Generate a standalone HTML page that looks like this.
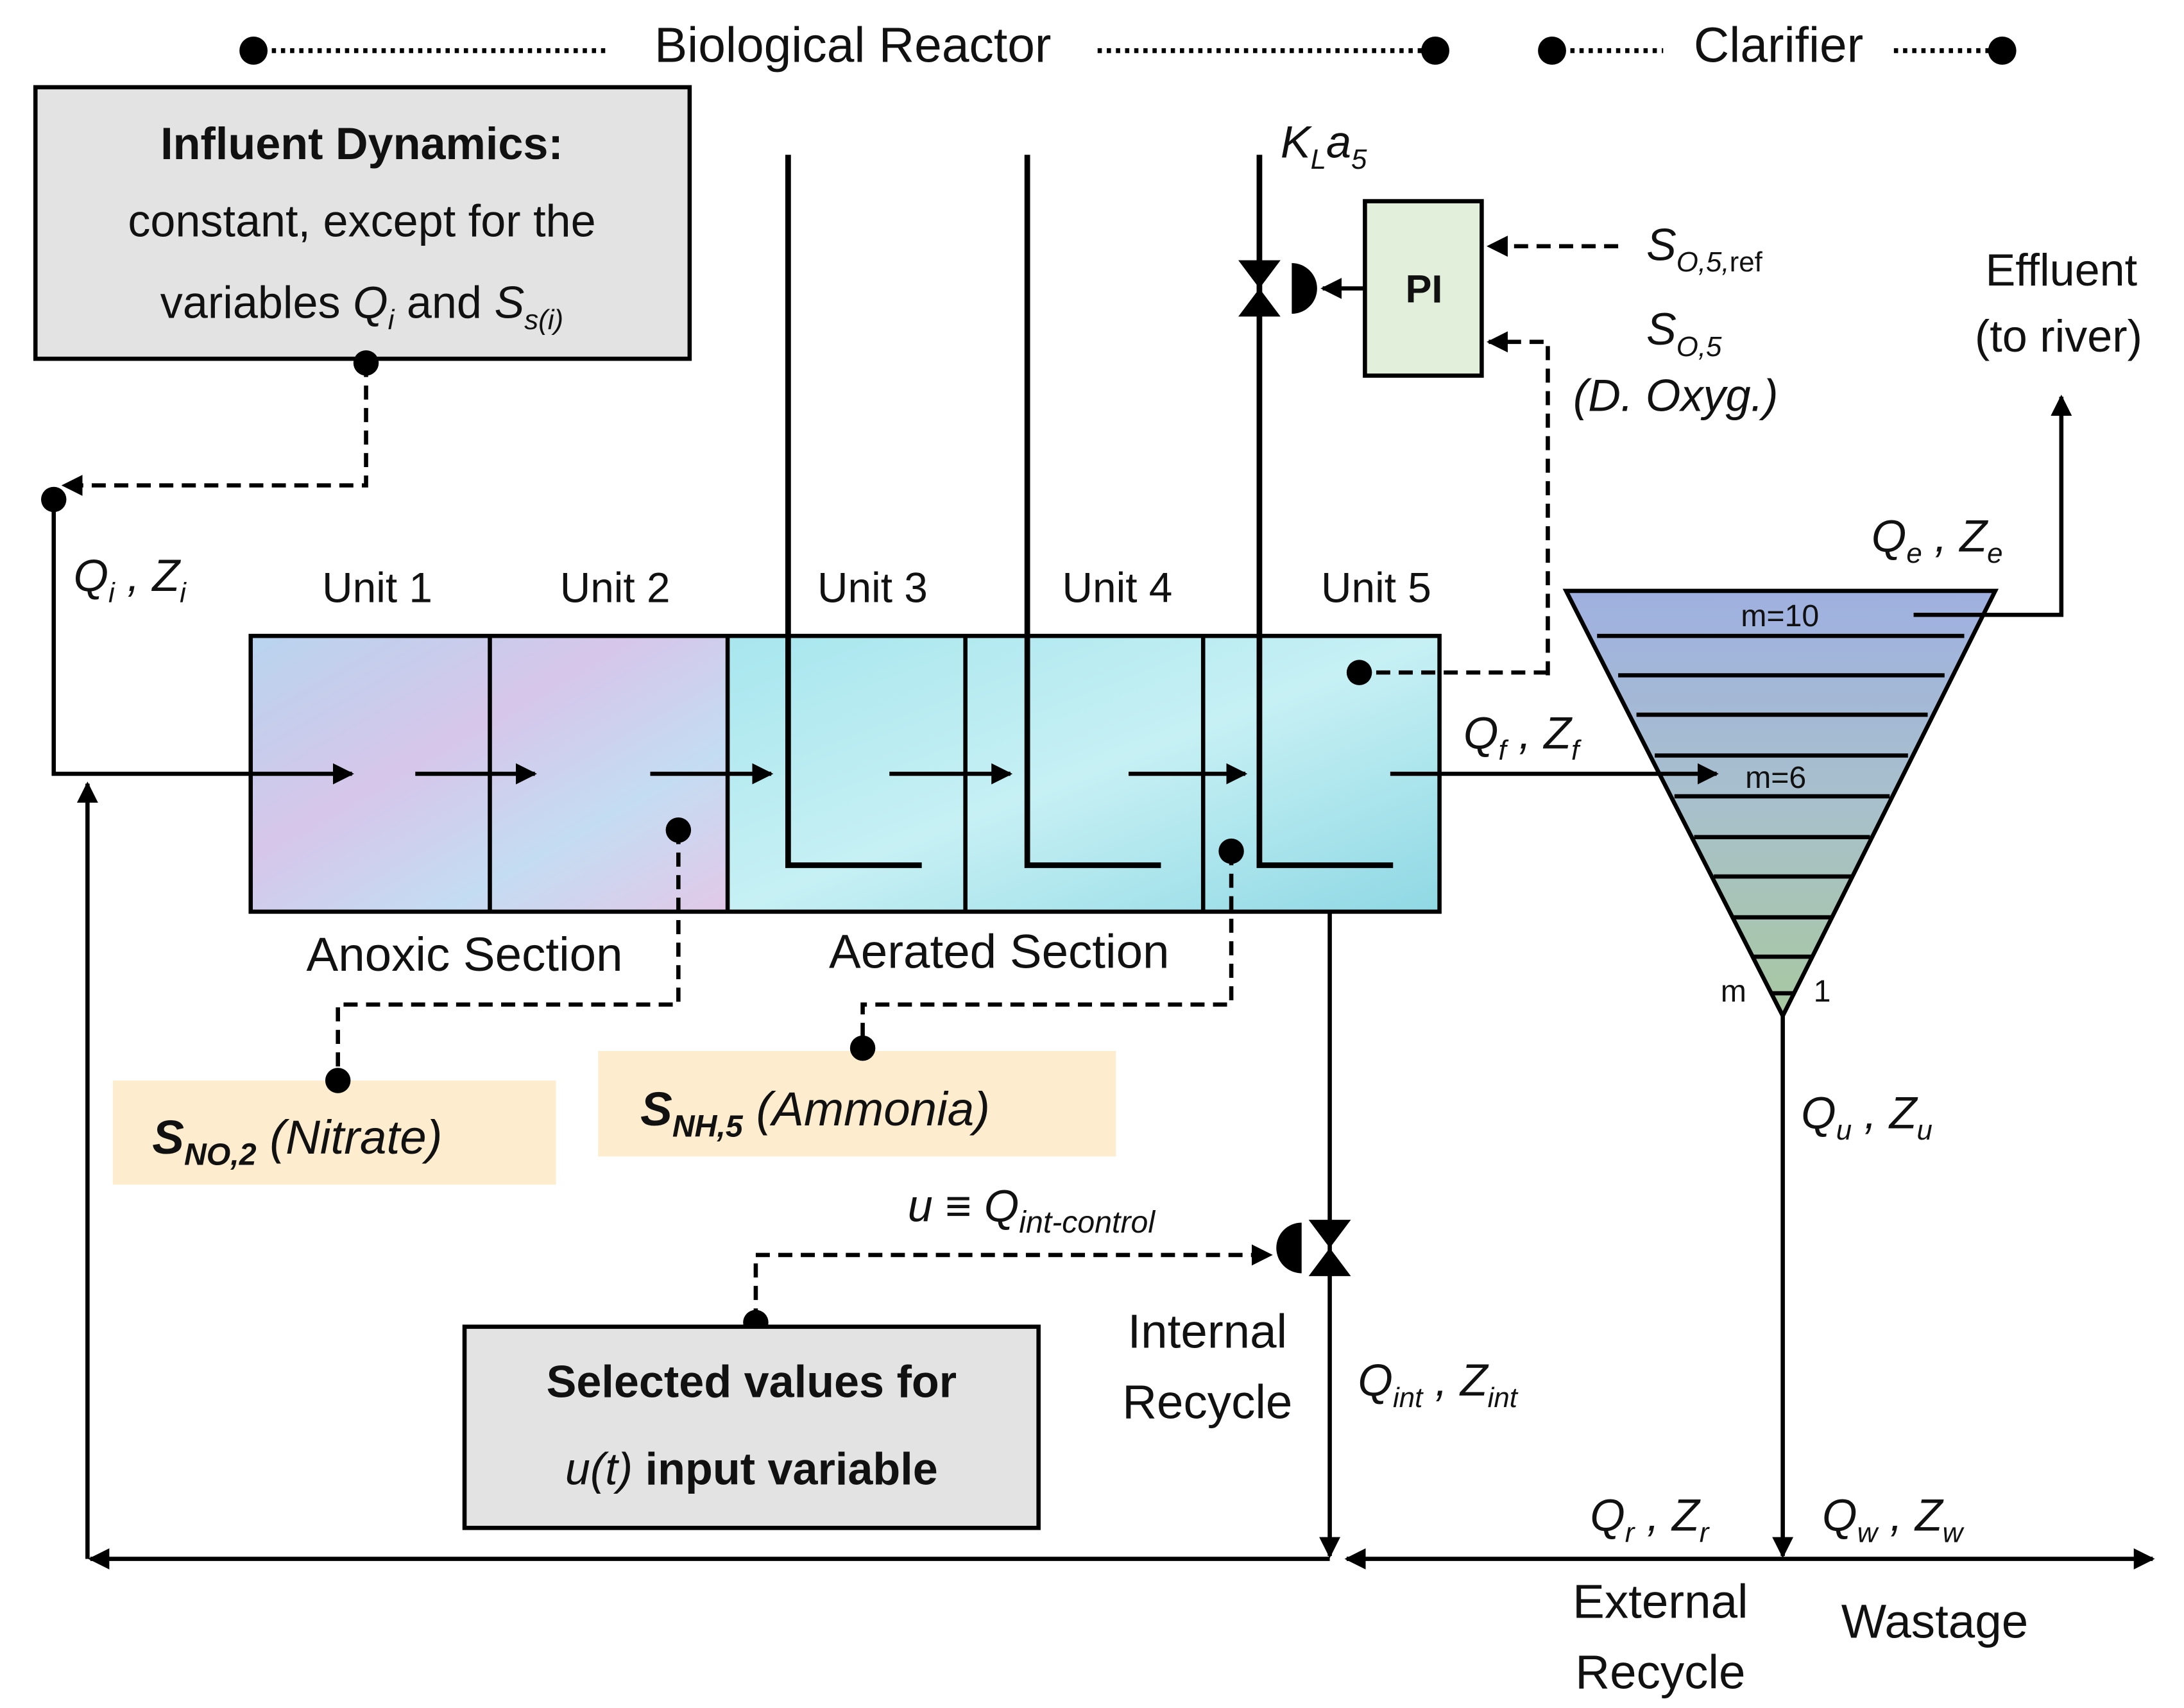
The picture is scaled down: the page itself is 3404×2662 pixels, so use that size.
<!DOCTYPE html>
<html><head><meta charset="utf-8"><style>
html,body{margin:0;padding:0;background:#fff}
svg{display:block}
text{font-family:"Liberation Sans",sans-serif;fill:#111}
</style></head><body>
<svg width="3404" height="2662" viewBox="0 0 1552 1214" xmlns="http://www.w3.org/2000/svg">
<defs>
<marker id="a" viewBox="0 0 10 10" refX="9" refY="5" markerWidth="5" markerHeight="5" orient="auto-start-reverse"><path d="M0,0L10,5L0,10z" fill="#000"/></marker>
<linearGradient id="pk" x1="0" y1="0" x2="1" y2="1"><stop offset="0" stop-color="#b8d4ee"/><stop offset=".4" stop-color="#d6c6ea"/><stop offset=".7" stop-color="#c4dcf2"/><stop offset="1" stop-color="#e2c8e8"/></linearGradient>
<linearGradient id="cy" x1="0" y1="0" x2="1" y2="1"><stop offset="0" stop-color="#a8e6ee"/><stop offset=".5" stop-color="#c6f0f4"/><stop offset="1" stop-color="#8fd8e4"/></linearGradient>
<linearGradient id="cl" x1="0" y1="0" x2="0" y2="1"><stop offset="0" stop-color="#9fb0e0"/><stop offset=".5" stop-color="#a8c0cc"/><stop offset="1" stop-color="#a8c8a0"/></linearGradient>
</defs>
<g stroke="#000" stroke-width="3.5" fill="none">
<path d="M180,36H432M780,36H1020M1103,36H1182M1346,36H1423" stroke-dasharray="3,3.5"/>
</g>
<g fill="#000"><circle cx="180" cy="36" r="10"/><circle cx="1020" cy="36" r="10"/><circle cx="1103" cy="36" r="10"/><circle cx="1423" cy="36" r="10"/></g>
<text x="606" y="44" font-size="35" text-anchor="middle">Biological Reactor</text>
<text x="1264" y="44" font-size="35" text-anchor="middle">Clarifier</text>

<rect x="25" y="62" width="465" height="193" fill="#e3e3e3" stroke="#000" stroke-width="3"/>
<text x="257" y="113" font-size="32" font-weight="bold" text-anchor="middle">Influent Dynamics:</text>
<text x="257" y="168" font-size="32" text-anchor="middle">constant, except for the</text>
<text x="257" y="226" font-size="32" text-anchor="middle">variables <tspan font-style="italic">Q</tspan><tspan font-style="italic" font-size="20" dy="8">i</tspan><tspan dy="-8"> and </tspan><tspan font-style="italic">S</tspan><tspan font-style="italic" font-size="20" dy="8">s(i)</tspan></text>
<circle cx="260" cy="258" r="9"/>
<path d="M260,258V345H45" stroke="#000" stroke-width="3" fill="none" stroke-dasharray="10,6" marker-end="url(#a)"/>
<circle cx="38" cy="355" r="9"/>
<text x="52" y="420" font-size="32" font-style="italic">Q<tspan font-size="20" dy="8">i</tspan><tspan dy="-8"> , Z</tspan><tspan font-size="20" dy="8">i</tspan></text>

<rect x="178" y="452" width="340" height="196" fill="url(#pk)"/>
<rect x="518" y="452" width="505" height="196" fill="url(#cy)"/>
<rect x="178" y="452" width="845" height="196" fill="none" stroke="#000" stroke-width="3"/>
<path d="M348,452V648M517,452V648M686,452V648M855,452V648" stroke="#000" stroke-width="3"/>
<g font-size="30" text-anchor="middle"><text x="268" y="428">Unit 1</text><text x="437" y="428">Unit 2</text><text x="620" y="428">Unit 3</text><text x="794" y="428">Unit 4</text><text x="978" y="428">Unit 5</text></g>
<g stroke="#000" stroke-width="3" fill="none" marker-end="url(#a)">
<path d="M38,355V550H250"/><path d="M295,550H380"/><path d="M462,550H548"/><path d="M632,550H718"/><path d="M802,550H885"/>
</g>
<g stroke="#000" stroke-width="4" fill="none">
<path d="M560,110V615H655M730,110V615H825M895,110V615H990"/>
</g>
<text x="910" y="112" font-size="32" font-style="italic">K<tspan font-size="20" dy="8">L</tspan><tspan dy="-8">a</tspan><tspan font-size="20" dy="8">5</tspan></text>
<path d="M880,185L910,185L895,205zM880,225L910,225L895,205z" fill="#000"/>
<path d="M918,187A18,18 0 0 1 918,223z" fill="#000"/>
<path d="M970,205H940" stroke="#000" stroke-width="3" marker-end="url(#a)"/>
<rect x="970" y="143" width="83" height="124" fill="#e2efda" stroke="#000" stroke-width="3"/>
<text x="1012" y="215" font-size="28" font-weight="bold" text-anchor="middle">PI</text>
<path d="M1150,175H1058" stroke="#000" stroke-width="3" stroke-dasharray="10,6" fill="none" marker-end="url(#a)"/>
<path d="M1100,480V243H1058" stroke="#000" stroke-width="3" stroke-dasharray="10,6" fill="none" marker-end="url(#a)"/>
<path d="M1100,478H966" stroke="#000" stroke-width="3" stroke-dasharray="10,6"/>
<circle cx="966" cy="478" r="9"/>
<text x="1170" y="185" font-size="32" font-style="italic">S<tspan font-size="20" dy="8">O,5,</tspan><tspan font-size="20" font-style="normal">ref</tspan></text>
<text x="1170" y="245" font-size="32" font-style="italic">S<tspan font-size="20" dy="8">O,5</tspan></text>
<text x="1118" y="292" font-size="32" font-style="italic">(D. Oxyg.)</text>
<text x="1465" y="203" font-size="32" text-anchor="middle">Effluent</text>
<text x="1463" y="250" font-size="32" text-anchor="middle">(to river)</text>
<text x="1330" y="392" font-size="32" font-style="italic">Q<tspan font-size="20" dy="8">e</tspan><tspan dy="-8"> , Z</tspan><tspan font-size="20" dy="8">e</tspan></text>
<text x="1040" y="532" font-size="32" font-style="italic">Q<tspan font-size="20" dy="8">f</tspan><tspan dy="-8"> , Z</tspan><tspan font-size="20" dy="8">f</tspan></text>

<path d="M1113,420H1418L1267,722z" fill="url(#cl)" stroke="#000" stroke-width="3"/>
<g stroke="#000" stroke-width="3">
<path d="M1135,452H1396M1150,480H1382M1163,508H1370M1176,537H1356M1190,566H1343M1204,595H1329M1218,623H1316M1232,652H1302M1245,680H1289M1258,706H1276"/>
</g>
<path d="M1360,437H1465V282" stroke="#000" stroke-width="3" fill="none" marker-end="url(#a)"/>
<path d="M988,550H1220" stroke="#000" stroke-width="3" fill="none" marker-end="url(#a)"/>
<text x="1265" y="445" font-size="22" text-anchor="middle">m=10</text>
<text x="1262" y="560" font-size="22" text-anchor="middle">m=6</text>
<text x="1232" y="712" font-size="22" text-anchor="middle">m</text>
<text x="1295" y="712" font-size="22" text-anchor="middle">1</text>
<path d="M1267,722V1106" stroke="#000" stroke-width="3" marker-end="url(#a)"/>
<text x="1280" y="802" font-size="32" font-style="italic">Q<tspan font-size="20" dy="8">u</tspan><tspan dy="-8"> , Z</tspan><tspan font-size="20" dy="8">u</tspan></text>

<path d="M945,648V1106" stroke="#000" stroke-width="3" marker-end="url(#a)"/>
<path d="M930,867L960,867L945,887zM930,907L960,907L945,887z" fill="#000"/>
<path d="M925,869A18,18 0 0 0 925,905z" fill="#000"/>
<path d="M537,940V892H903" stroke="#000" stroke-width="3" stroke-dasharray="10,6" fill="none" marker-end="url(#a)"/>
<circle cx="537" cy="940" r="9"/>
<text x="645" y="868" font-size="32" font-style="italic">u ≡ Q<tspan font-size="22" dy="8">int-control</tspan></text>
<text x="858" y="958" font-size="34" text-anchor="middle">Internal</text>
<text x="858" y="1008" font-size="34" text-anchor="middle">Recycle</text>
<text x="965" y="992" font-size="32" font-style="italic">Q<tspan font-size="20" dy="8">int</tspan><tspan dy="-8"> , Z</tspan><tspan font-size="20" dy="8">int</tspan></text>
<rect x="330" y="943" width="408" height="143" fill="#e3e3e3" stroke="#000" stroke-width="3"/>
<text x="534" y="993" font-size="32" font-weight="bold" text-anchor="middle">Selected values for</text>
<text x="534" y="1055" font-size="32" font-weight="bold" text-anchor="middle"><tspan font-style="italic" font-weight="normal">u(t)</tspan> input variable</text>

<path d="M945,1108H64" stroke="#000" stroke-width="3" marker-end="url(#a)"/>
<path d="M62,1108V557" stroke="#000" stroke-width="3" marker-end="url(#a)"/>
<path d="M1530,1108H957" stroke="#000" stroke-width="3" marker-start="url(#a)" marker-end="url(#a)"/>
<text x="1130" y="1088" font-size="32" font-style="italic">Q<tspan font-size="20" dy="8">r</tspan><tspan dy="-8"> , Z</tspan><tspan font-size="20" dy="8">r</tspan></text>
<text x="1295" y="1088" font-size="32" font-style="italic">Q<tspan font-size="20" dy="8">w</tspan><tspan dy="-8"> , Z</tspan><tspan font-size="20" dy="8">w</tspan></text>
<text x="1180" y="1150" font-size="34" text-anchor="middle">External</text>
<text x="1180" y="1200" font-size="34" text-anchor="middle">Recycle</text>
<text x="1375" y="1164" font-size="34" text-anchor="middle">Wastage</text>

<text x="330" y="690" font-size="34" text-anchor="middle">Anoxic Section</text>
<text x="710" y="688" font-size="34" text-anchor="middle">Aerated Section</text>

<rect x="80" y="768" width="315" height="74" fill="#fdeccd"/>
<rect x="425" y="747" width="368" height="75" fill="#fdeccd"/>
<path d="M482,590V714H240V768" stroke="#000" stroke-width="3" stroke-dasharray="10,6" fill="none"/>
<path d="M875,605V714H613V745" stroke="#000" stroke-width="3" stroke-dasharray="10,6" fill="none"/>
<g fill="#000"><circle cx="482" cy="590" r="9"/><circle cx="240" cy="768" r="9"/><circle cx="875" cy="605" r="9"/><circle cx="613" cy="745" r="9"/></g>
<text x="108" y="820" font-size="34" font-style="italic"><tspan font-weight="bold">S</tspan><tspan font-weight="bold" font-size="22" dy="8">NO,2</tspan><tspan dy="-8"> (Nitrate)</tspan></text>
<text x="455" y="800" font-size="34" font-style="italic"><tspan font-weight="bold">S</tspan><tspan font-weight="bold" font-size="22" dy="8">NH,5</tspan><tspan dy="-8"> (Ammonia)</tspan></text>
</svg>
</body></html>
